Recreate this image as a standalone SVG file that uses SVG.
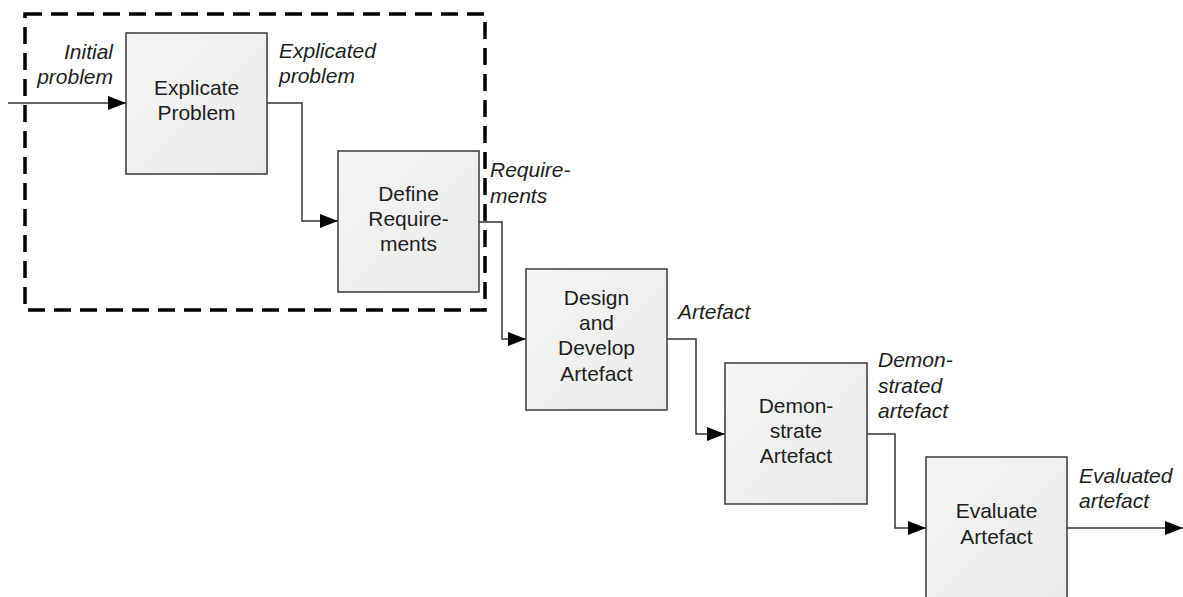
<svg xmlns="http://www.w3.org/2000/svg" width="1183" height="597" viewBox="0 0 1183 597">
  <defs>
    <linearGradient id="boxfill" x1="0" y1="0" x2="1" y2="1">
      <stop offset="0" stop-color="#f5f5f5"/>
      <stop offset="1" stop-color="#eaeaea"/>
    </linearGradient>
    <marker id="arrow" markerUnits="userSpaceOnUse" markerWidth="18" markerHeight="14" refX="18" refY="7" orient="auto">
      <path d="M0,0 L18,7 L0,14 Z" fill="#000"/>
    </marker>
  </defs>
  <style>
    .box { fill: url(#boxfill); stroke: #3a3a3a; stroke-width: 1.5; }
    .lbl { font-family: "Liberation Sans", Arial, sans-serif; font-size: 21px; fill: #1e1e1e; text-anchor: middle; }
    .io { font-family: "Liberation Sans", Arial, sans-serif; font-size: 21px; font-style: italic; fill: #1e1e1e; }
    .conn { fill: none; stroke: #333; stroke-width: 1.5; marker-end: url(#arrow); }
    .frame { fill: none; stroke: #000; stroke-width: 3.5; stroke-dasharray: 17 9; }
  </style>
  <rect width="1183" height="597" fill="#fff"/>

  <g id="scope">
    <rect class="frame" x="25" y="14" width="460" height="296"/>
  </g>

  <g id="connectors">
    <path class="conn" d="M8,103 L126,103"/>
    <path class="conn" d="M267,103 L302,103 L302,221 L338,221"/>
    <path class="conn" d="M479,222 L502,222 L502,339 L526,339"/>
    <path class="conn" d="M667,339 L696,339 L696,434 L725,434"/>
    <path class="conn" d="M867,434 L895,434 L895,528 L926,528"/>
    <path class="conn" d="M1067,528 L1183,528"/>
  </g>

  <g id="io-labels">
    <text class="io" text-anchor="end" x="113" y="59">Initial</text>
    <text class="io" text-anchor="end" x="113" y="84">problem</text>
    <text class="io" x="279" y="58">Explicated</text>
    <text class="io" x="279" y="83">problem</text>
    <text class="io" x="490" y="177">Require-</text>
    <text class="io" x="490" y="203">ments</text>
    <text class="io" x="678" y="319">Artefact</text>
    <text class="io" x="878" y="367">Demon-</text>
    <text class="io" x="878" y="393">strated</text>
    <text class="io" x="878" y="418">artefact</text>
    <text class="io" x="1079" y="483">Evaluated</text>
    <text class="io" x="1079" y="508">artefact</text>
  </g>

  <g id="explicate-problem">
    <rect class="box" x="126" y="33" width="141" height="141"/>
    <text class="lbl" x="196.5" y="95">Explicate</text>
    <text class="lbl" x="196.5" y="120">Problem</text>
  </g>

  <g id="define-requirements">
    <rect class="box" x="338" y="151" width="141" height="141"/>
    <text class="lbl" x="408.5" y="201">Define</text>
    <text class="lbl" x="408.5" y="226">Require-</text>
    <text class="lbl" x="408.5" y="251">ments</text>
  </g>

  <g id="design-develop">
    <rect class="box" x="526" y="269" width="141" height="141"/>
    <text class="lbl" x="596.5" y="305">Design</text>
    <text class="lbl" x="596.5" y="330">and</text>
    <text class="lbl" x="596.5" y="355">Develop</text>
    <text class="lbl" x="596.5" y="381">Artefact</text>
  </g>

  <g id="demonstrate">
    <rect class="box" x="725" y="363" width="142" height="141"/>
    <text class="lbl" x="796" y="413">Demon-</text>
    <text class="lbl" x="796" y="438">strate</text>
    <text class="lbl" x="796" y="463">Artefact</text>
  </g>

  <g id="evaluate">
    <rect class="box" x="926" y="457" width="141" height="141"/>
    <text class="lbl" x="996.5" y="518">Evaluate</text>
    <text class="lbl" x="996.5" y="544">Artefact</text>
  </g>
</svg>
